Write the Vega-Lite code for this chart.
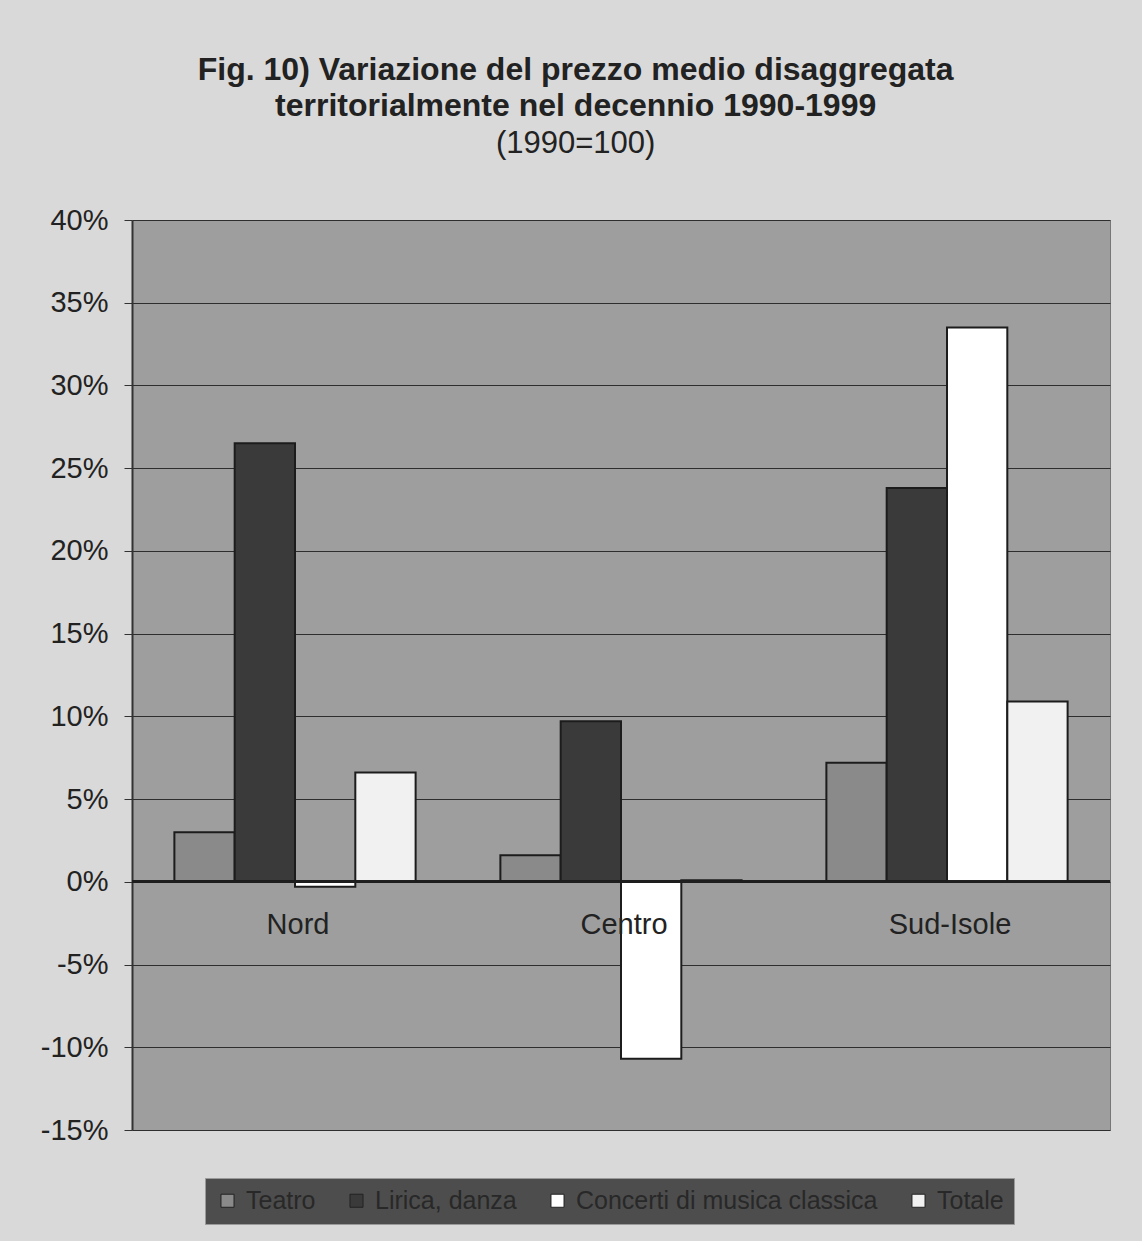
{
  "$schema": "https://vega.github.io/schema/vega-lite/v6.json",
  "width": 978,
  "height": 910,
  "autosize": "none",
  "padding": {"left": 132, "top": 220, "right": 32, "bottom": 111},
  "background": "#d9d9d9",
  "title": {
    "text": ["Fig. 10) Variazione del prezzo medio disaggregata", "territorialmente nel decennio 1990-1999"],
    "subtitle": "(1990=100)",
    "anchor": "middle",
    "frame": "bounds",
    "font": "Liberation Sans",
    "fontSize": 32,
    "fontWeight": "bold",
    "color": "#222222",
    "lineHeight": 36,
    "subtitleFont": "Liberation Sans",
    "subtitleFontSize": 31,
    "subtitleColor": "#222222",
    "subtitlePadding": 6,
    "offset": 46
  },
  "config": {
    "view": {"fill": "#9e9e9e", "stroke": "#777777", "strokeWidth": 1},
    "axis": {"gridColor": "#2e2e2e", "gridWidth": 1, "gridOpacity": 1}
  },
  "data": {
    "values": [
      {"regione": "Nord", "serie": "Teatro", "valore": 0.030},
      {"regione": "Nord", "serie": "Lirica, danza", "valore": 0.265},
      {"regione": "Nord", "serie": "Concerti di musica classica", "valore": -0.003},
      {"regione": "Nord", "serie": "Totale", "valore": 0.066},
      {"regione": "Centro", "serie": "Teatro", "valore": 0.016},
      {"regione": "Centro", "serie": "Lirica, danza", "valore": 0.097},
      {"regione": "Centro", "serie": "Concerti di musica classica", "valore": -0.107},
      {"regione": "Centro", "serie": "Totale", "valore": 0.001},
      {"regione": "Sud-Isole", "serie": "Teatro", "valore": 0.072},
      {"regione": "Sud-Isole", "serie": "Lirica, danza", "valore": 0.238},
      {"regione": "Sud-Isole", "serie": "Concerti di musica classica", "valore": 0.335},
      {"regione": "Sud-Isole", "serie": "Totale", "valore": 0.109}
    ]
  },
  "layer": [
    {
      "mark": {"type": "bar", "stroke": "#1c1c1c", "strokeWidth": 2},
      "encoding": {
        "x": {
          "field": "regione",
          "type": "nominal",
          "sort": ["Nord", "Centro", "Sud-Isole"],
          "scale": {"paddingInner": 0.26, "paddingOuter": 0.13},
          "axis": {"labels": false, "ticks": false, "domain": false, "title": null, "grid": false}
        },
        "xOffset": {
          "field": "serie",
          "type": "nominal",
          "sort": ["Teatro", "Lirica, danza", "Concerti di musica classica", "Totale"],
          "scale": {"paddingInner": 0, "paddingOuter": 0}
        },
        "y": {
          "field": "valore",
          "type": "quantitative",
          "scale": {"domain": [-0.15, 0.4], "nice": false, "zero": false},
          "axis": {
            "values": [-0.15, -0.1, -0.05, 0, 0.05, 0.1, 0.15, 0.2, 0.25, 0.3, 0.35, 0.4],
            "format": ".0%",
            "labelExpr": "replace(datum.label, '\u2212', '-')",
            "title": null,
            "grid": true,
            "domainColor": "#333333",
            "domainWidth": 2,
            "tickColor": "#333333",
            "tickSize": 8,
            "labelFont": "Liberation Sans",
            "labelFontSize": 29,
            "labelColor": "#222222",
            "labelPadding": 16
          }
        },
        "color": {
          "field": "serie",
          "type": "nominal",
          "sort": ["Teatro", "Lirica, danza", "Concerti di musica classica", "Totale"],
          "scale": {
            "domain": ["Teatro", "Lirica, danza", "Concerti di musica classica", "Totale"],
            "range": ["#8a8a8a", "#3a3a3a", "#ffffff", "#f1f1f1"]
          },
          "legend": {
            "title": null,
            "orient": "none",
            "legendX": 73,
            "legendY": 958,
            "direction": "horizontal",
            "fillColor": "#4d4d4d",
            "strokeColor": "#9a9a9a",
            "padding": 10,
            "labelFont": "Liberation Sans",
            "labelFontSize": 25,
            "labelLimit": 0,
            "labelColor": "#282828",
            "symbolType": "square",
            "symbolSize": 170,
            "symbolStrokeColor": "#222222",
            "symbolStrokeWidth": 1,
            "columnPadding": 28,
            "labelOffset": 6
          }
        }
      }
    },
    {
      "mark": {"type": "rule", "color": "#1e1e1e", "strokeWidth": 2},
      "encoding": {"y": {"datum": 0}}
    },
    {
      "data": {"values": [{"regione": "Nord"}, {"regione": "Centro"}, {"regione": "Sud-Isole"}]},
      "mark": {"type": "text", "dy": 43, "dx": 3, "font": "Liberation Sans", "fontSize": 29, "color": "#222222", "baseline": "middle"},
      "encoding": {
        "x": {"field": "regione", "type": "nominal", "sort": ["Nord", "Centro", "Sud-Isole"]},
        "y": {"datum": 0},
        "text": {"field": "regione"}
      }
    }
  ]
}
